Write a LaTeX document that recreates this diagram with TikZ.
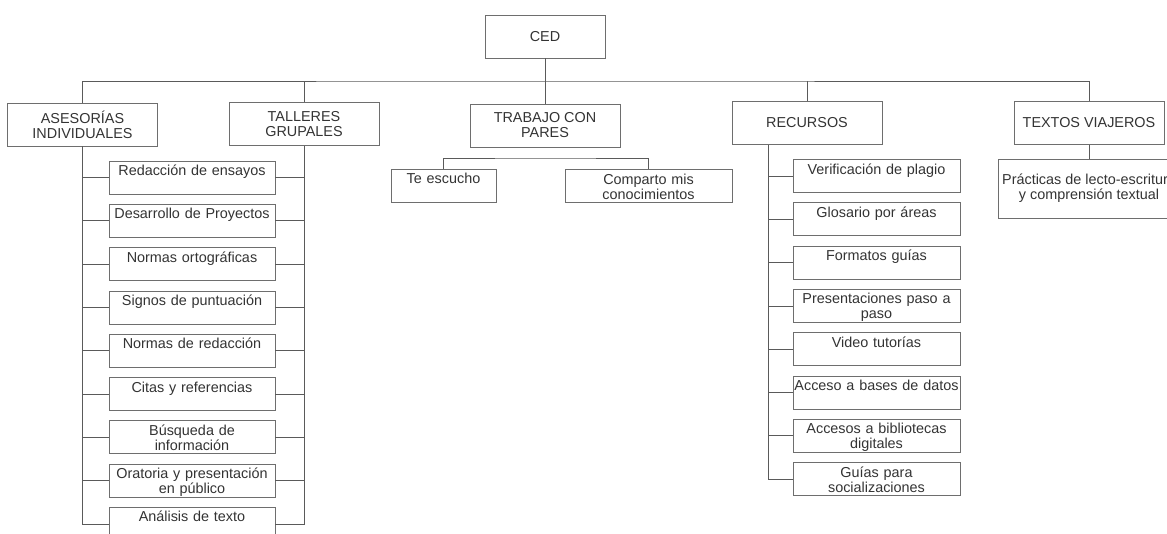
\documentclass[tikz,border=0pt]{standalone}
\usepackage{fontspec}
\setmainfont{Liberation Sans}
\usetikzlibrary{positioning}

\definecolor{boxgray}{HTML}{6E6E6E}
\definecolor{linkgray}{HTML}{5A5A5A}
\definecolor{textgray}{HTML}{333333}

\begin{document}
\begin{tikzpicture}[
    x=1pt, y=-1pt,
    node distance=9.5pt,
    every node/.style={text=textgray, font=\fontsize{14.4pt}{15pt}\selectfont},
    mainbox/.style={rectangle, draw=boxgray, line width=0.8pt, minimum width=150pt, minimum height=43pt, align=center, inner sep=1pt},
    leaf/.style={rectangle, draw=boxgray, line width=0.8pt, inner sep=0pt, text width=#1, align=center, text height=14.5pt, text depth=18.5pt},
    leaf/.default=166pt,
    link/.style={draw=linkgray, line width=0.8pt}
]
    \useasboundingbox (0,0) rectangle (1167,533);

    % Nodes
    \node[mainbox, minimum width=120pt] (ced) at (545,36.5) {CED};
    \node[mainbox] (ase) at (82.5,124.5) {ASESORÍAS\\INDIVIDUALES};
    \node[mainbox] (tal) at (304,124) {TALLERES\\GRUPALES};
    \node[mainbox] (tra) at (545,125.5) {TRABAJO CON\\PARES};
    \node[mainbox] (rec) at (807,123) {RECURSOS};
    \node[mainbox] (tex) at (1089,123) {TEXTOS VIAJEROS};

    % Trabajo con pares
    \node[leaf=105pt] (te) at (443.5,185.5) {Te escucho};
    \node[leaf=167pt] (com) at (648.5,186) {Comparto mis\\conocimientos};

    % Textos viajeros
    \node[mainbox, minimum width=182pt, minimum height=59pt] (pra) at (1089,188.5) {Prácticas de lecto-escritura\\y comprensión textual};

    % Asesorias / talleres
    \node[leaf] (a1) at (192,177.5) {Redacción de ensayos};
    \node[leaf, below=of a1] (a2) {Desarrollo de Proyectos};
    \node[leaf, below=of a2] (a3) {Normas ortográficas};
    \node[leaf, below=of a3] (a4) {Signos de puntuación};
    \node[leaf, below=of a4] (a5) {Normas de redacción};
    \node[leaf, below=of a5] (a6) {Citas y referencias};
    \node[leaf, below=of a6] (a7) {Búsqueda de\\información};
    \node[leaf, below=of a7] (a8) {Oratoria y presentación\\en público};
    \node[leaf, below=of a8] (a9) {Análisis de texto};

    % Recursos
    \node[leaf=167pt] (r1) at (876.5,176) {Verificación de plagio};
    \node[leaf=167pt, below=of r1] (r2) {Glosario por áreas};
    \node[leaf=167pt, below=of r2] (r3) {Formatos guías};
    \node[leaf=167pt, below=of r3] (r4) {Presentaciones paso a\\paso};
    \node[leaf=167pt, below=of r4] (r5) {Video tutorías};
    \node[leaf=167pt, below=of r5] (r6) {Acceso a bases de datos};
    \node[leaf=167pt, below=of r6] (r7) {Accesos a bibliotecas\\digitales};
    \node[leaf=167pt, below=of r7] (r8) {Guías para\\socializaciones};

    % Connectors
    \coordinate (bus) at (545,81);
    \coordinate (sub) at (545,158);
    \draw[link] (ced) -- (tra);
    \draw[link] (ase.north) |- (bus) -| (tex.north);
    \draw[link] (tal.north) -- (tal.north |- bus);
    \draw[link] (rec.north) -- (rec.north |- bus);
    \draw[link] (te.north) |- (sub) -| (com.north);
    \draw[link] (tex) -- (pra);

    % Spines
    \draw[link] (ase.south) |- (a9.west);
    \draw[link] (tal.south) |- (a9.east);
    \foreach \i in {1,...,8} {
        \draw[link] (ase.south |- a\i.west) -- (a\i.west);
        \draw[link] (tal.south |- a\i.east) -- (a\i.east);
    }
    \coordinate (rs) at ([xshift=-39pt]rec.south);
    \draw[link] (rs) |- (r8.west);
    \foreach \i in {1,...,7} {
        \draw[link] (rs |- r\i.west) -- (r\i.west);
    }
\end{tikzpicture}
\end{document}
